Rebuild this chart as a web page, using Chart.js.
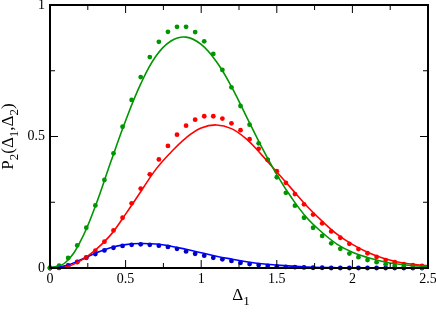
<!DOCTYPE html>
<html><head><meta charset="utf-8">
<script src="https://cdn.jsdelivr.net/npm/chart.js@4"></script>
<style>html,body{margin:0;padding:0;background:#fff}#wrap{width:436px;height:323px}</style>
</head><body><div id="wrap"><canvas id="c"></canvas></div>
<script>
// sampled points (dots)
const xDots = [0,0.06,0.12,0.18,0.24,0.30,0.36,0.42,0.48,0.54,0.60,0.66,0.72,0.78,0.84,0.90,0.96,1.02,1.08,1.14,1.20,1.26,1.32,1.38,1.44,1.50,1.56,1.62,1.68,1.74,1.80,1.86,1.92,1.98,2.04,2.10,2.16,2.22,2.28,2.34,2.40,2.46];
const greenDots = [0,0.009,0.038,0.086,0.153,0.238,0.335,0.436,0.537,0.639,0.726,0.802,0.860,0.898,0.917,0.917,0.897,0.862,0.814,0.753,0.687,0.616,0.545,0.474,0.411,0.345,0.286,0.237,0.191,0.153,0.122,0.094,0.073,0.055,0.041,0.030,0.022,0.014,0.009,0.005,0.003,0.001];
const redDots = [0,0.001,0.008,0.022,0.040,0.066,0.100,0.143,0.191,0.246,0.302,0.356,0.413,0.464,0.507,0.541,0.564,0.577,0.577,0.568,0.550,0.524,0.490,0.453,0.411,0.368,0.324,0.281,0.242,0.203,0.170,0.139,0.115,0.092,0.072,0.056,0.042,0.030,0.022,0.015,0.011,0.008];
const blueDots = [0,0.001,0.010,0.023,0.039,0.053,0.067,0.077,0.084,0.088,0.090,0.088,0.085,0.080,0.073,0.063,0.054,0.047,0.039,0.033,0.027,0.020,0.015,0.011,0.008,0.005,0.004,0.003,0.002,0.001,0.001,0,0,0,0,0,0,0,0,0,0,0];
// curves (lines)
const xLine = [0,0.1,0.2,0.3,0.4,0.5,0.6,0.7,0.8,0.9,1.0,1.1,1.2,1.3,1.4,1.5,1.6,1.7,1.8,1.9,2.0,2.1,2.2,2.3,2.4,2.5];
const greenLine = [0,0.02,0.10,0.235,0.40,0.56,0.70,0.805,0.863,0.878,0.85,0.785,0.69,0.575,0.46,0.355,0.265,0.19,0.135,0.09,0.06,0.04,0.025,0.015,0.009,0.005];
const redLine = [0,0.003,0.027,0.068,0.125,0.205,0.29,0.375,0.44,0.495,0.532,0.544,0.53,0.49,0.43,0.365,0.30,0.235,0.178,0.128,0.09,0.06,0.038,0.023,0.014,0.009];
const blueLine = [0,0.008,0.03,0.056,0.077,0.089,0.093,0.091,0.083,0.071,0.058,0.045,0.034,0.024,0.016,0.011,0.007,0.004,0.002,0.001,0,0,0,0,0,0];
const xTicks = ['0','0.5','1','1.5','2','2.5'];
const yTicks = ['0','0.5','1'];

const GREEN = 'rgb(0,150,0)', RED = 'rgb(255,0,0)', BLUE = 'rgb(0,0,255)', DBLUE='rgb(0,0,190)';
const SERIF = "'Liberation Serif','Times New Roman',serif";

function pts(xs, ys){ return xs.map((x,i)=>({x:x, y:ys[i]})); }
function dotSet(ys,c){ return {data:pts(xDots,ys), showLine:false, pointRadius:2.4, pointBackgroundColor:c, pointBorderWidth:0, borderColor:c, clip:6}; }
function lineSet(ys,c){ return {data:pts(xLine,ys), showLine:true, pointRadius:0, borderColor:c, borderWidth:1.6, tension:0.4, fill:false, clip:2}; }

const framePlugin = {
  id:'frame',
  afterDatasetsDraw(chart){
    const {ctx, chartArea:a, scales:{x,y}} = chart;
    ctx.save();
    ctx.strokeStyle='#000';
    ctx.lineWidth=1;
    const tk = (v,len,horiz)=>{
      if(horiz){ const p=x.getPixelForValue(v);
        ctx.beginPath(); ctx.moveTo(p,a.bottom); ctx.lineTo(p,a.bottom-len); ctx.moveTo(p,a.top); ctx.lineTo(p,a.top+len); ctx.stroke(); }
      else { const p=y.getPixelForValue(v);
        ctx.beginPath(); ctx.moveTo(a.left,p); ctx.lineTo(a.left+len,p); ctx.moveTo(a.right,p); ctx.lineTo(a.right-len,p); ctx.stroke(); }
    };
    xTicks.forEach(t=>tk(parseFloat(t),8,true));
    for(let i=0;i<5;i++) tk(0.25+0.5*i,5,true);
    yTicks.forEach(t=>tk(parseFloat(t),8,false));
    [0.25,0.75].forEach(v=>tk(v,5,false));
    ctx.lineWidth=2;
    ctx.strokeRect(a.left,a.top,a.right-a.left,a.bottom-a.top);
    ctx.restore();
  },
  afterDraw(chart){
    const {ctx, chartArea:a} = chart;
    ctx.save();
    ctx.fillStyle='#000';
    ctx.textBaseline='alphabetic';
    const big = '17px '+SERIF, small='13px '+SERIF;
    const drawParts=(parts, cx, base)=>{
      let w=0; parts.forEach(p=>{ctx.font=p[1]?small:big; w+=ctx.measureText(p[0]).width;});
      let xx=cx-w/2;
      parts.forEach(p=>{ctx.font=p[1]?small:big; ctx.fillText(p[0],xx,base+(p[1]?5:0)); xx+=ctx.measureText(p[0]).width;});
    };
    ctx.textAlign='left';
    drawParts([['\u0394',0],['1',1]], (a.left+a.right)/2+2, 300);
    ctx.translate(13,(a.top+a.bottom)/2);
    ctx.rotate(-Math.PI/2);
    drawParts([['P',0],['2',1],['(\u0394',0],['1',1],[',\u0394',0],['2',1],[')',0]], 0, 0);
    ctx.restore();
  }
};

new Chart(document.getElementById('c'), {
  type:'scatter',
  data:{datasets:[
    lineSet(greenLine,GREEN), lineSet(redLine,RED), lineSet(blueLine,BLUE),
    dotSet(greenDots,GREEN), dotSet(redDots,RED), dotSet(blueDots,DBLUE)
  ]},
  options:{
    responsive:true, maintainAspectRatio:false, animation:false,
    layout:{padding:{left:0,right:8,top:5,bottom:0}},
    plugins:{legend:{display:false}, tooltip:{enabled:false}},
    scales:{
      x:{type:'linear', min:0, max:2.5,
         grid:{display:false, drawTicks:false}, border:{display:false},
         ticks:{stepSize:0.5, padding:3, color:'#000', font:{family:SERIF,size:14}, maxRotation:0,
                callback:(v)=>{const s=xTicks.find(t=>Math.abs(parseFloat(t)-v)<1e-6); return s===undefined?null:s;}},
         afterFit(s){ s.height=55; s.paddingLeft=0; s.paddingRight=0; }},
      y:{type:'linear', min:0, max:1,
         grid:{display:false, drawTicks:false}, border:{display:false},
         ticks:{stepSize:0.5, padding:5, color:'#000', font:{family:SERIF,size:14},
                callback:(v)=>{const s=yTicks.find(t=>Math.abs(parseFloat(t)-v)<1e-6); return s===undefined?null:s;}},
         afterFit(s){ s.width=50; s.paddingTop=0; s.paddingBottom=0; }}
    }
  },
  plugins:[framePlugin]
});
</script>
</body></html>
